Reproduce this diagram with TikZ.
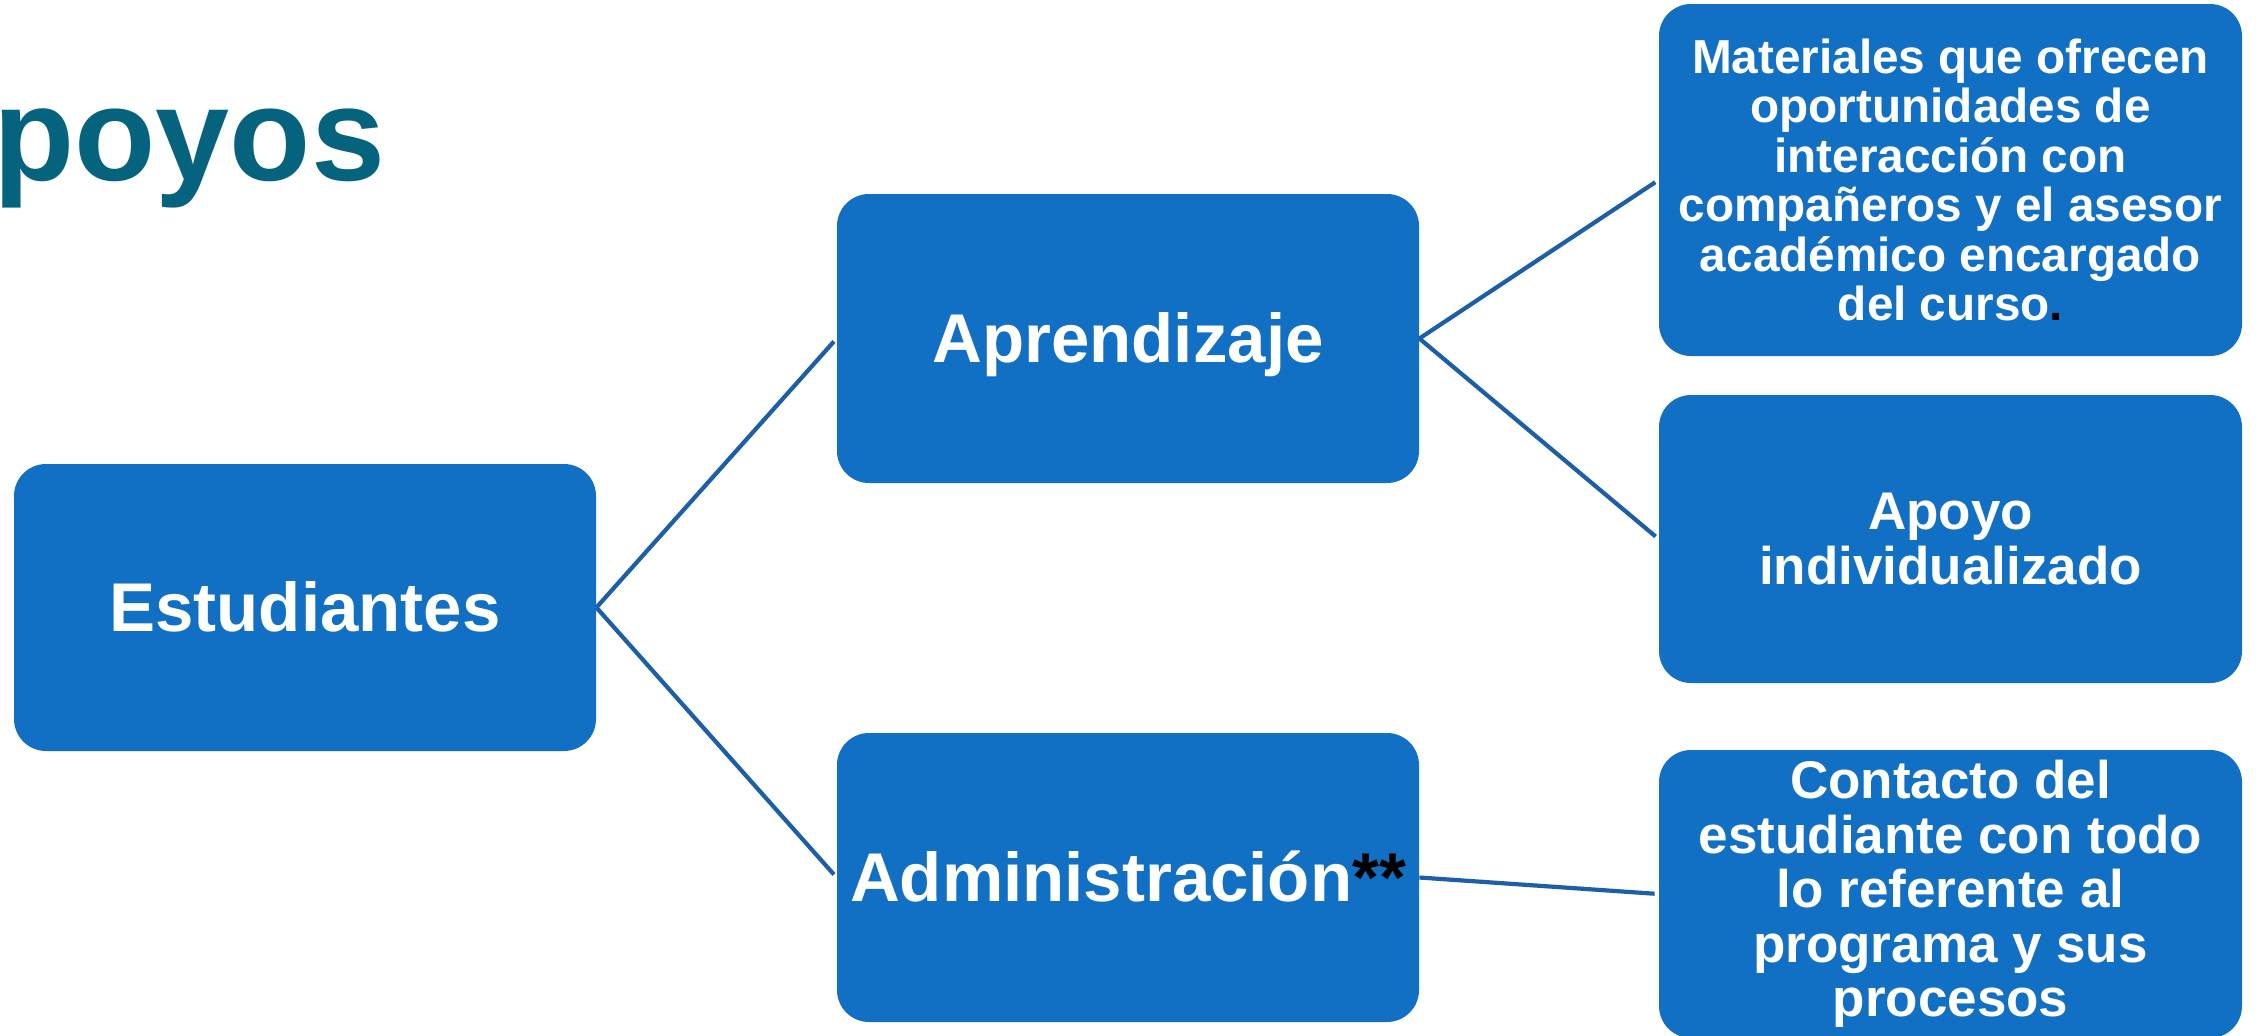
\documentclass[tikz,border=0pt]{standalone}
\usepackage{fontspec}
\setmainfont{Liberation Sans}
\definecolor{boxblue}{HTML}{1270C4}
\definecolor{linkblue}{HTML}{1D5EA8}
\definecolor{titleteal}{HTML}{06637E}
\begin{document}
\begin{tikzpicture}[x=0.5pt,y=-0.5pt,
  box/.style={rectangle, rounded corners=16pt, fill=boxblue, text=white,
    font=\bfseries, align=center, inner sep=0pt},
  bigtext/.style={font=\fontsize{34.5pt}{38pt}\selectfont\bfseries, text height=24pt, text depth=0pt},
  midtext/.style={font=\fontsize{26.5pt}{27.25pt}\selectfont\bfseries},
  smalltext/.style={font=\fontsize{23.85pt}{24.7pt}\selectfont\bfseries},
  link/.style={draw=linkblue, line width=2.1pt, shorten >=2pt}]
\useasboundingbox[fill=white] (0,0) rectangle (2261,1035);
\node[anchor=base west, inner sep=0pt, text=titleteal,
  font=\fontsize{66.5pt}{70pt}\selectfont\bfseries] (title) at (-7,180) {poyos};
\node[box, bigtext, minimum width=291pt, minimum height=143.5pt] (est) at (305,607.5) {Estudiantes};
\node[box, bigtext, minimum width=291pt, minimum height=144.5pt] (apr) at (1128,338.5) {Aprendizaje};
\node[box, bigtext, minimum width=291pt, minimum height=144.5pt] (adm) at (1128,877.5) {Administración\textcolor{black}{**}};
\node[box, smalltext, minimum width=291.5pt, minimum height=176pt] (mat) at (1950.5,180)
  {Materiales que ofrecen\\oportunidades de\\interacción con\\compañeros y el asesor\\académico encargado\\del curso\textcolor{black}{.}};
\node[box, midtext, minimum width=291.5pt, minimum height=144pt] (apo) at (1950.5,539)
  {Apoyo\\individualizado};
\node[box, midtext, minimum width=291.5pt, minimum height=144pt] (con) at (1950.5,894)
  {Contacto del\\estudiante con todo\\lo referente al\\programa y sus\\procesos};
\draw[link] (est.east) -- (apr.west);
\draw[link] (est.east) -- (adm.west);
\draw[link] (apr.east) -- (mat.west);
\draw[link] (apr.east) -- (apo.west);
\draw[link] (adm.east) -- (con.west);
\end{tikzpicture}
\end{document}
